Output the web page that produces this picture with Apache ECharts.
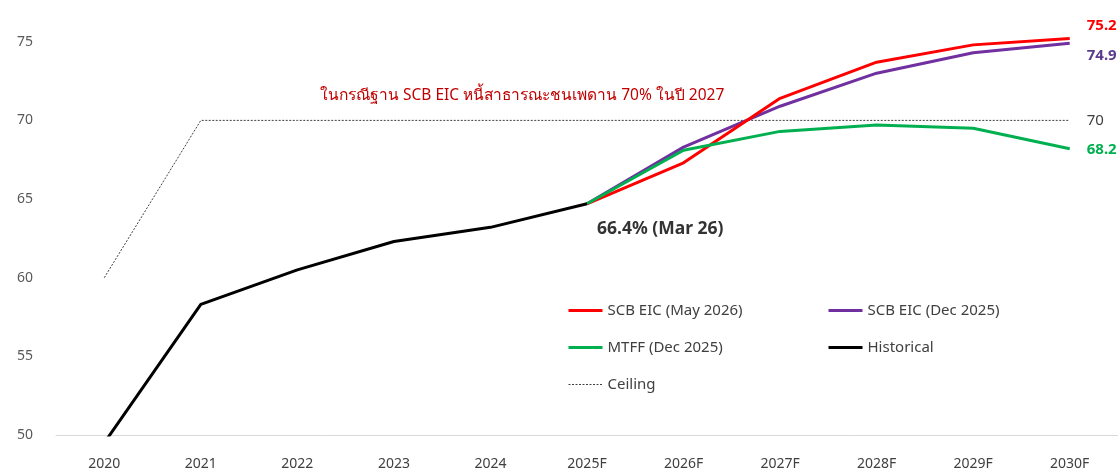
<!DOCTYPE html>
<html>
<head>
<meta charset="utf-8">
<script src="https://cdn.jsdelivr.net/npm/echarts@6/dist/echarts.min.js"></script>
<style>
  html, body { margin: 0; padding: 0; background: #fff; }
  #chart { width: 1118px; height: 471px; }
</style>
</head>
<body>
<div id="chart"></div>
<script>
// หนี้สาธารณะต่อ GDP (%)
const years = ['2020', '2021', '2022', '2023', '2024', '2025F', '2026F', '2027F', '2028F', '2029F', '2030F']
const historical = [49.5, 58.3, 60.5, 62.3, 63.2, 64.7]
const scbMay2026 = [null, null, null, null, null, 64.7, 67.3, 71.4, 73.7, 74.8, 75.2]
const scbDec2025 = [null, null, null, null, null, 64.7, 68.3, 70.9, 73.0, 74.3, 74.9]
const mtffDec2025 = [null, null, null, null, null, 64.7, 68.1, 69.3, 69.7, 69.5, 68.2]
const ceiling = [60, 70, 70, 70, 70, 70, 70, 70, 70, 70, 70]

const noteText = 'ในกรณีฐาน SCB EIC หนี้สาธารณะชนเพดาน 70% ในปี 2027'
const histNote = '66.4% (Mar 26)'

const font = "'Noto Sans', 'DejaVu Sans', sans-serif"

const chart = echarts.init(document.getElementById('chart'))

function endLbl(color, dy, bold) {
  return {
    show: true,
    formatter: '{c}',
    color: color,
    fontFamily: font,
    fontSize: 15,
    fontWeight: bold ? 'bold' : 'normal',
    distance: 17,
    offset: [0, dy]
  }
}

// ซ่อนจุดกลม ให้เหลือแค่เส้นใน legend
const legendBase = {
  orient: 'vertical',
  top: 303,
  padding: 0,
  itemWidth: 34,
  itemHeight: 14,
  itemGap: 22,
  itemStyle: { opacity: 0 },
  lineStyle: { width: 3 },
  textStyle: { color: '#404040', fontSize: 15, fontFamily: font }
}

chart.setOption({
  animation: false,
  textStyle: { fontFamily: font },
  title: {
    text: noteText,
    left: 315,
    top: 83,
    textStyle: { color: '#c00000', fontSize: 15.5, fontWeight: 'normal', fontFamily: font }
  },
  grid: { left: 56, right: -7, top: 26, bottom: 36 },
  legend: [
    Object.assign({}, legendBase, {
      left: 567,
      data: ['SCB EIC (May 2026)', 'MTFF (Dec 2025)', { name: 'Ceiling', lineStyle: { width: 1 } }]
    }),
    Object.assign({}, legendBase, { left: 827, data: ['SCB EIC (Dec 2025)', 'Historical'] })
  ],
  xAxis: {
    type: 'category',
    data: years,
    boundaryGap: true,
    axisLine: { lineStyle: { color: '#d9d9d9', width: 1 } },
    axisTick: { show: false },
    axisLabel: { color: '#404040', fontSize: 14, margin: 22, fontFamily: font }
  },
  yAxis: {
    type: 'value',
    min: 50,
    max: 76,
    interval: 5,
    splitLine: { show: false },
    axisLine: { show: false },
    axisTick: { show: false },
    axisLabel: {
      color: '#595959',
      fontSize: 14,
      margin: 23,
      fontFamily: font,
      formatter: v => (v % 5 === 0 ? v : '')
    }
  },
  series: [
    {
      name: 'Ceiling',
      type: 'line',
      data: ceiling,
      symbol: 'none',
      lineStyle: { color: '#404040', width: 1, type: [2, 1.5] },
      itemStyle: { color: '#404040' },
      endLabel: endLbl('#404040', 0, false)
    },
    {
      name: 'SCB EIC (Dec 2025)',
      type: 'line',
      data: scbDec2025,
      symbol: 'none',
      lineStyle: { color: '#7030a0', width: 3 },
      itemStyle: { color: '#7030a0' },
      endLabel: endLbl('#5b3b8c', 12, true)
    },
    {
      name: 'SCB EIC (May 2026)',
      type: 'line',
      data: scbMay2026,
      symbol: 'none',
      lineStyle: { color: '#ff0000', width: 3 },
      itemStyle: { color: '#ff0000' },
      endLabel: endLbl('#ff0000', -13, true)
    },
    {
      name: 'MTFF (Dec 2025)',
      type: 'line',
      data: mtffDec2025,
      symbol: 'none',
      lineStyle: { color: '#00b050', width: 3 },
      itemStyle: { color: '#00b050' },
      endLabel: endLbl('#00b050', 1, true)
    },
    {
      name: 'Historical',
      type: 'line',
      data: historical,
      symbol: 'none',
      lineStyle: { color: '#000000', width: 3 },
      itemStyle: { color: '#000000' },
      endLabel: {
        show: true,
        formatter: histNote,
        color: '#333333',
        fontFamily: font,
        fontSize: 17.5,
        fontWeight: 'bold',
        distance: 10,
        offset: [0, 25]
      }
    }
  ]
})
</script>
</body>
</html>
